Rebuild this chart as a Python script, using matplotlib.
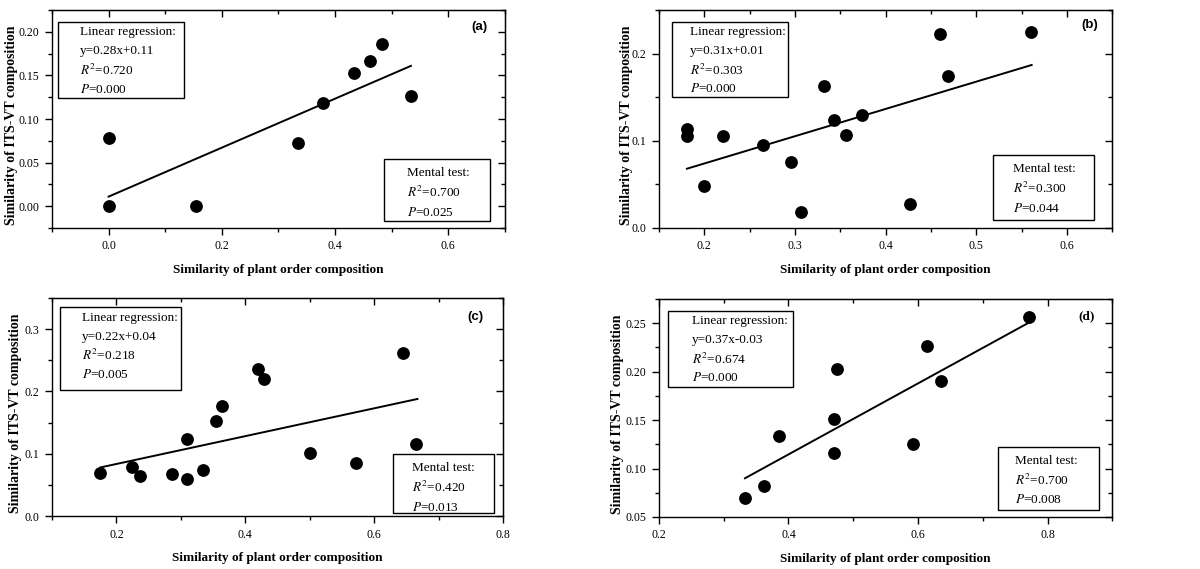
import numpy as np
import matplotlib
matplotlib.use('Agg')
import matplotlib.pyplot as plt
from matplotlib.ticker import MultipleLocator, FormatStrFormatter
from matplotlib.patches import Rectangle

plt.rcParams['font.family'] = 'Liberation Serif'
plt.rcParams['mathtext.fontset'] = 'stix'

# --- dados ---
a_x = [0.0, 0.0, 0.154, 0.334, 0.379, 0.434, 0.461, 0.482, 0.534]
a_y = [0.078, 0.0, 0.0, 0.072, 0.118, 0.153, 0.167, 0.186, 0.126]
a_line_x = [0.0, 0.534]
a_line_y = [0.011, 0.161]

b_x = [0.181, 0.181, 0.200, 0.221, 0.265, 0.296, 0.307, 0.332, 0.343,
       0.356, 0.374, 0.427, 0.460, 0.469, 0.560]
b_y = [0.114, 0.105, 0.048, 0.106, 0.095, 0.076, 0.018, 0.163, 0.124,
       0.107, 0.130, 0.028, 0.222, 0.174, 0.225]
b_line_x = [0.181, 0.561]
b_line_y = [0.068, 0.187]

c_x = [0.175, 0.224, 0.236, 0.286, 0.309, 0.309, 0.334, 0.354, 0.364,
       0.420, 0.429, 0.500, 0.571, 0.644, 0.665]
c_y = [0.069, 0.078, 0.065, 0.068, 0.123, 0.059, 0.074, 0.153, 0.177,
       0.236, 0.220, 0.102, 0.085, 0.262, 0.115]
c_line_x = [0.175, 0.667]
c_line_y = [0.078, 0.188]

d_x = [0.333, 0.363, 0.385, 0.470, 0.470, 0.475, 0.592, 0.614, 0.635, 0.772]
d_y = [0.070, 0.082, 0.134, 0.151, 0.116, 0.203, 0.125, 0.227, 0.190, 0.257]
d_line_x = [0.333, 0.772]
d_line_y = [0.090, 0.251]

paineis = [
    dict(tag='(a)', x=a_x, y=a_y, lx=a_line_x, ly=a_line_y,
         eq='y=0.28x+0.11', r2='0.720', p='0.000', mr2='0.700', mp='0.025',
         xlim=(-0.1, 0.7), ylim=(-0.025, 0.225), xmaj=0.2, xmin=0.1,
         ymaj=0.05, ymin=0.025, yfmt='%.2f',
         pos=[0.0433, 0.5993, 0.3775, 0.383],
         box1=(0.013, 0.291, 0.596, 0.945), tx1=0.062,
         box2=(0.733, 0.967, 0.032, 0.317), tx2=0.783,
         tagxy=(0.943, 0.922), tagfont='Liberation Sans', ylx=-0.075),
    dict(tag='(b)', x=b_x, y=b_y, lx=b_line_x, ly=b_line_y,
         eq='y=0.31x+0.01', r2='0.303', p='0.000', mr2='0.300', mp='0.044',
         xlim=(0.15, 0.65), ylim=(0.0, 0.25), xmaj=0.1, xmin=0.05,
         ymaj=0.1, ymin=0.05, yfmt='%.1f',
         pos=[0.549, 0.5993, 0.378, 0.383],
         box1=(0.0295, 0.284, 0.599, 0.946), tx1=0.069,
         box2=(0.736, 0.960, 0.037, 0.335), tx2=0.780,
         tagxy=(0.949, 0.931), tagfont='Liberation Sans', ylx=-0.056),
    dict(tag='(c)', x=c_x, y=c_y, lx=c_line_x, ly=c_line_y,
         eq='y=0.22x+0.04', r2='0.218', p='0.005', mr2='0.420', mp='0.013',
         xlim=(0.1, 0.8), ylim=(0.0, 0.35), xmaj=0.2, xmin=0.1,
         ymaj=0.1, ymin=0.05, yfmt='%.1f',
         pos=[0.0433, 0.0931, 0.376, 0.383],
         box1=(0.018, 0.287, 0.579, 0.957), tx1=0.067,
         box2=(0.755, 0.979, 0.015, 0.285), tx2=0.799,
         tagxy=(0.938, 0.911), tagfont='Liberation Sans', ylx=-0.066),
    dict(tag='(d)', x=d_x, y=d_y, lx=d_line_x, ly=d_line_y,
         eq='y=0.37x-0.03', r2='0.674', p='0.000', mr2='0.700', mp='0.008',
         xlim=(0.2, 0.9), ylim=(0.05, 0.275), xmaj=0.2, xmin=0.1,
         ymaj=0.05, ymin=0.025, yfmt='%.2f',
         pos=[0.549, 0.0914, 0.378, 0.383],
         box1=(0.021, 0.296, 0.597, 0.946), tx1=0.074,
         box2=(0.747, 0.971, 0.034, 0.322), tx2=0.785,
         tagxy=(0.944, 0.922), tagfont='Liberation Serif', ylx=-0.076),
]

FS = 9.5


def caixa(ax, box, tx, linhas, primeira, passo):
    x0, x1, y0, y1 = box
    ax.add_patch(Rectangle((x0, y0), x1 - x0, y1 - y0, transform=ax.transAxes,
                           fc='white', ec='black', lw=1, zorder=4))
    for i, t in enumerate(linhas):
        ax.text(tx, y1 - primeira - i * passo, t, transform=ax.transAxes,
                fontsize=FS, va='center', ha='left', zorder=5)


fig = plt.figure(figsize=(12, 5.69), dpi=100)

for p in paineis:
    ax = fig.add_axes(p['pos'])
    ax.scatter(p['x'], p['y'], s=85, color='black', zorder=6, linewidths=0)
    ax.plot(p['lx'], p['ly'], color='black', lw=1.4, zorder=3)
    ax.set_xlim(*p['xlim'])
    ax.set_ylim(*p['ylim'])

    ax.xaxis.set_major_locator(MultipleLocator(p['xmaj']))
    ax.xaxis.set_minor_locator(MultipleLocator(p['xmin']))
    ax.yaxis.set_major_locator(MultipleLocator(p['ymaj']))
    ax.yaxis.set_minor_locator(MultipleLocator(p['ymin']))
    ax.yaxis.set_major_formatter(FormatStrFormatter(p['yfmt']))
    ax.xaxis.set_major_formatter(FormatStrFormatter('%.1f'))
    ax.tick_params(which='both', direction='out', labelsize=8.5, width=1)
    ax.tick_params(which='major', length=5, pad=4)
    ax.tick_params(which='minor', length=3)

    # ticks espelhados (para dentro) em cima e à direita
    top = ax.secondary_xaxis('top')
    top.xaxis.set_major_locator(MultipleLocator(p['xmaj']))
    top.xaxis.set_minor_locator(MultipleLocator(p['xmin']))
    top.tick_params(which='both', direction='in', labeltop=False, width=1)
    top.tick_params(which='major', length=5)
    top.tick_params(which='minor', length=3)
    right = ax.secondary_yaxis('right')
    right.yaxis.set_major_locator(MultipleLocator(p['ymaj']))
    right.yaxis.set_minor_locator(MultipleLocator(p['ymin']))
    right.tick_params(which='both', direction='in', labelright=False, width=1)
    right.tick_params(which='major', length=5)
    right.tick_params(which='minor', length=3)

    for s in ax.spines.values():
        s.set_linewidth(1)

    ax.set_xlabel('Similarity of plant order composition', fontsize=9.5,
                  fontweight='bold')
    ax.xaxis.set_label_coords(0.5, -0.163)
    ax.set_ylabel('Similarity of ITS-VT composition', fontsize=10,
                  fontweight='bold')
    ax.yaxis.set_label_coords(p['ylx'], 0.47)

    caixa(ax, p['box1'], p['tx1'],
          ['Linear regression:', p['eq'], '$R^2$=' + p['r2'], '$P$=' + p['p']],
          0.047, 0.087)
    caixa(ax, p['box2'], p['tx2'],
          ['Mental test:', '$R^2$=' + p['mr2'], '$P$=' + p['mp']],
          0.064, 0.09)

    ax.text(p['tagxy'][0], p['tagxy'][1], p['tag'], transform=ax.transAxes,
            fontsize=9.5, fontweight='bold', family=p['tagfont'],
            ha='center', va='center')

fig.savefig('out.png', dpi=100)
